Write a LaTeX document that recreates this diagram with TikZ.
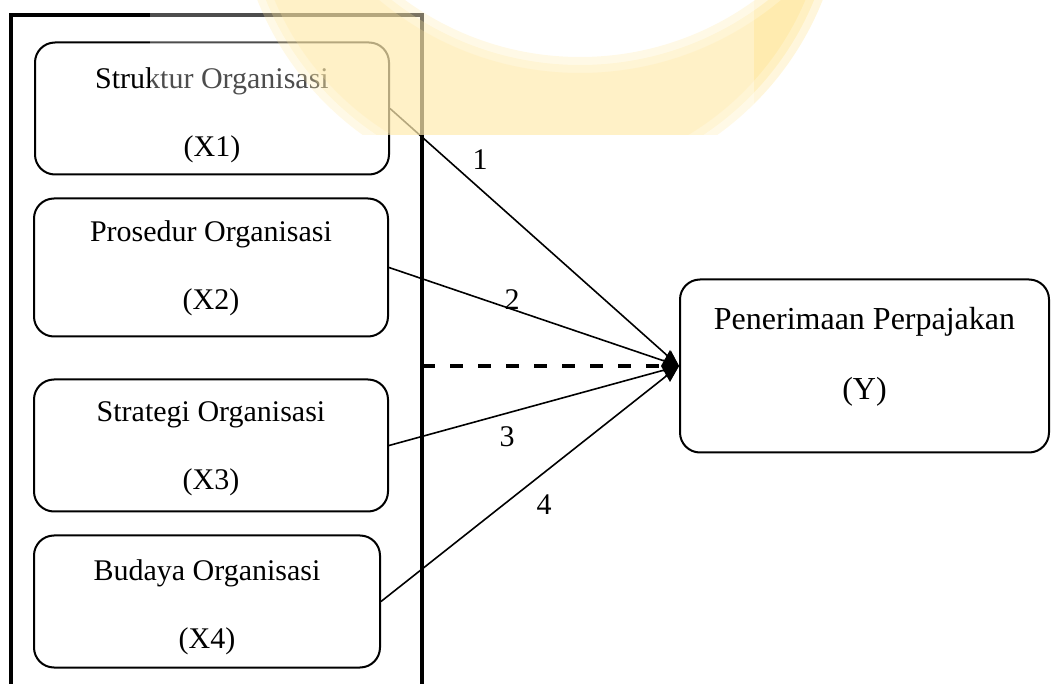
\documentclass[tikz,border=0pt]{standalone}
\usepackage{fontspec}
\setmainfont{Liberation Serif}
\usetikzlibrary{arrows.meta}
\tikzset{>={Stealth[length=8pt,width=6pt]}}
\definecolor{wmyellow}{RGB}{255,222,120}
\newcommand\toppad[1]{\rule{0pt}{#1}}
\tikzset{
  var/.style={draw, line width=1pt, rounded corners=10pt, align=center,
    minimum width=177pt, minimum height=66pt, inner sep=0pt,
    font=\fontsize{15}{34}\selectfont},
  link/.style={->, line width=0.8pt},
  lbl/.style={font=\fontsize{15}{18}\selectfont}
}

\begin{document}
\begin{tikzpicture}[x=0.5pt, y=-0.5pt]
  \useasboundingbox (0,0) rectangle (1051,684);
  \clip (0,0) rectangle (1051,684);
  \draw[line width=2pt] (11,15) rectangle (422,720);

  \node[var] (x1) at (212,108.5) {\toppad{17.3pt}Struktur Organisasi\\(X1)};
  \node[var, minimum height=69pt] (x2) at (211,267.5) {\toppad{11.3pt}Prosedur Organisasi\\(X2)};
  \node[var] (x3) at (211,445.5) {\toppad{12.8pt}Strategi Organisasi\\(X3)};
  \node[var, minimum width=173pt] (x4) at (207,601.5) {\toppad{15.8pt}Budaya Organisasi\\(X4)};
  \node[var, minimum width=184.5pt, minimum height=86.5pt,
    font=\fontsize{16}{35}\selectfont] (y) at (864.5,366)
    {Penerimaan Perpajakan\\(Y)\rule[-13pt]{0pt}{13pt}};
  \coordinate (frame) at (422,366);

  \draw[link] (x1.east) -- (y.west);
  \draw[link] (x2.east) -- (y.west);
  \draw[link] (x3.east) -- (y.west);
  \draw[link] (x4.east) -- (y.west);
  \draw[-{Kite[length=9pt,width=16pt,inset=4.5pt]}, line width=2pt,
    dash pattern=on 6.5pt off 7.5pt] (frame) -- (y.west);

  \node[lbl] (n1) at (480,160) {1};
  \node[lbl] (n2) at (512,300) {2};
  \node[lbl] (n3) at (507,437) {3};
  \node[lbl] (n4) at (544,505) {4};

  % watermark
  \begin{scope}
    \clip (0,0) rectangle (1051,135);
    \foreach \d in {0,4,8}
      \fill[wmyellow, even odd rule, opacity=0.26]
        (540,-112) circle[radius=152pt-\d pt] (580,-240) circle[radius=148.5pt+\d pt];
  \end{scope}
  \fill[white, opacity=0.3] (150,0) rectangle (754,135);
\end{tikzpicture}
\end{document}
